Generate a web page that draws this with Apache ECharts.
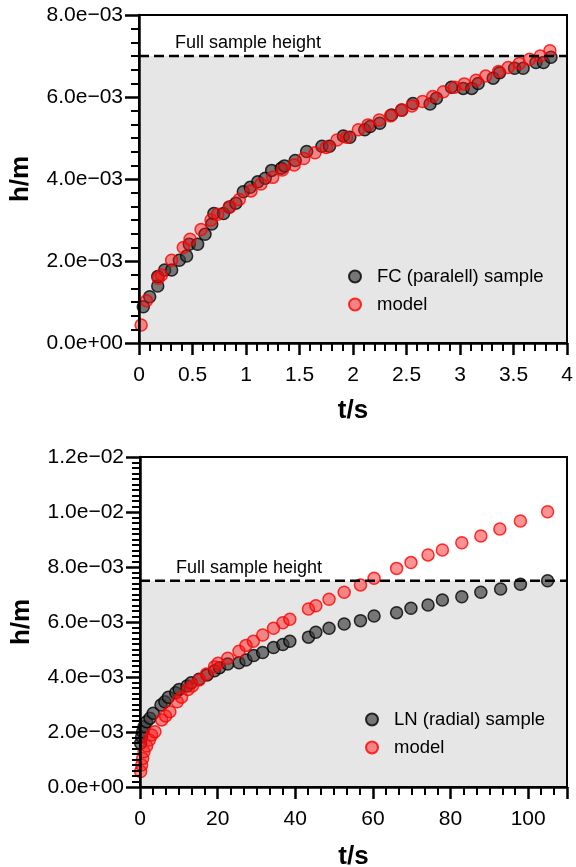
<!DOCTYPE html>
<html><head><meta charset="utf-8">
<script src="https://cdn.jsdelivr.net/npm/echarts@6/dist/echarts.min.js"></script>
<style>html,body{margin:0;padding:0;background:#fff}#c{width:576px;height:867px}</style>
</head><body><div id="c"></div>
<script>
// ---- Top panel: FC (parallel) sample, t in s, h in mm (converted to m below)
const fcT = [0.04,0.10,0.175,0.175,0.24,0.305,0.377,0.445,0.47,0.548,0.617,0.68,0.70,0.79,0.845,0.905,0.975,1.04,1.11,1.18,1.24,1.33,1.36,1.46,1.567,1.71,1.78,1.91,1.97,2.11,2.16,2.25,2.36,2.455,2.56,2.72,2.78,2.92,3.03,3.11,3.17,3.31,3.37,3.51,3.59,3.71,3.78,3.85];
const fcH = [0.885,1.13,1.39,1.62,1.78,1.78,2.02,2.12,2.41,2.41,2.65,2.90,3.16,3.16,3.32,3.41,3.69,3.80,3.93,4.02,4.21,4.26,4.32,4.45,4.67,4.80,4.80,5.05,5.02,5.20,5.28,5.36,5.56,5.68,5.84,5.83,5.97,6.24,6.21,6.21,6.33,6.46,6.59,6.70,6.70,6.84,6.84,6.97];
const fcModelT = [0.02,0.07,0.18,0.21,0.305,0.414,0.477,0.58,0.673,0.735,0.845,0.937,1.047,1.14,1.25,1.34,1.45,1.54,1.645,1.75,1.85,1.94,2.05,2.14,2.245,2.35,2.455,2.55,2.65,2.745,2.845,2.95,3.04,3.15,3.24,3.36,3.45,3.555,3.65,3.75,3.84];
const fcModelH = [0.44,1.03,1.58,1.66,2.02,2.33,2.53,2.77,3.00,3.14,3.31,3.50,3.71,3.88,4.04,4.22,4.34,4.50,4.64,4.77,4.95,5.02,5.20,5.32,5.44,5.54,5.68,5.78,5.89,6.01,6.13,6.24,6.32,6.41,6.51,6.62,6.72,6.82,6.92,7.00,7.13];
const fcFullHeight = 7.0e-3;

// ---- Bottom panel: LN (radial) sample
const lnT = [0.17,0.43,0.69,1.03,1.7,2.56,3.4,5.4,6.4,7.3,9.2,10.1,12.1,13.2,15.2,17.3,19.2,20.5,22.6,25.5,27.3,29.3,31.6,34.4,36.8,38.6,43.4,45.3,48.7,52.6,56.8,60.3,66.1,69.8,74.2,77.9,82.9,87.8,92.9,98.0,105];
const lnH = [1.59,1.83,2.01,2.19,2.37,2.50,2.68,2.98,3.10,3.26,3.43,3.55,3.67,3.79,3.92,4.07,4.23,4.34,4.47,4.52,4.62,4.78,4.89,5.07,5.18,5.30,5.45,5.63,5.77,5.93,6.05,6.22,6.34,6.50,6.62,6.80,6.92,7.08,7.20,7.37,7.50];
const lnModelT = [0.17,0.43,0.69,1.03,1.7,2.4,3.0,3.85,5.6,6.6,7.7,9.6,10.7,12.4,13.5,15.2,17.1,19.2,20.1,22.6,25.5,27.3,29.2,31.6,34.4,36.8,38.6,43.4,45.3,48.7,52.6,56.8,60.3,66.1,69.8,74.2,77.9,82.9,87.8,92.7,98.0,105];
const lnModelH = [0.56,0.80,1.04,1.28,1.49,1.71,1.89,2.01,2.44,2.58,2.74,3.10,3.26,3.55,3.67,3.89,4.11,4.37,4.50,4.68,4.94,5.15,5.30,5.53,5.77,5.97,6.10,6.47,6.59,6.83,7.08,7.35,7.59,7.95,8.16,8.44,8.62,8.88,9.13,9.38,9.67,10.01];
const lnFullHeight = 7.5e-3;

const seriesNames = ['FC (paralell) sample','model','LN (radial) sample','model'];
const fullLabel = 'Full sample height';
const xMax = [4, 110];

const FONT = '"Liberation Sans", Arial, sans-serif';
const MM = 1e-3;
const pts = (t, h) => t.map((x, i) => [x, h[i] * MM]);

function sci(v){
  if (Math.abs(v) < 1e-12) return '0.0e+00';
  let e = Math.floor(Math.log10(Math.abs(v)) + 1e-9);
  let m = v / Math.pow(10, e);
  if (Math.abs(m) >= 9.95) { m /= 10; e += 1; }
  return m.toFixed(1) + 'e' + (e < 0 ? '\u2212' : '+') + String(Math.abs(e)).padStart(2, '0');
}

const grayStyle = {color:'rgba(60,60,60,0.82)', borderColor:'#000', borderWidth:1.5};
const redStyle = {color:'rgba(255,20,20,0.58)', borderColor:'#ff0000', borderWidth:1.5};

function xAxis(gi, max, interval, minorSplit, gap){
  return {
    type:'value', gridIndex:gi, min:0, max:max, interval:interval, z:5, position:'bottom',
    name:'t/s', nameLocation:'middle', nameGap:gap,
    nameTextStyle:{fontSize:26, fontWeight:'bold', color:'#000', fontFamily:FONT},
    axisLine:{show:true, onZero:false, lineStyle:{color:'#000', width:2.5}},
    axisTick:{show:true, inside:false, length:12, lineStyle:{color:'#000', width:2.5}},
    minorTick:{show:true, splitNumber:minorSplit, length:8, lineStyle:{color:'#000', width:2}},
    splitLine:{show:false},
    axisLabel:{show:true, fontSize:21, color:'#000', fontFamily:FONT, margin:22, showMaxLabel: max === 4}
  };
}
function yAxis(gi, max, interval, minorSplit){
  return {
    type:'value', gridIndex:gi, min:0, max:max, interval:interval, z:5, position:'left',
    name:'h/m', nameLocation:'middle', nameGap:105, nameRotate:90,
    nameTextStyle:{fontSize:26, fontWeight:'bold', color:'#000', fontFamily:FONT},
    axisLine:{show:true, onZero:false, lineStyle:{color:'#000', width:2.5}},
    axisTick:{show:true, inside:false, length:14, lineStyle:{color:'#000', width:2.5}},
    minorTick:{show:true, splitNumber:minorSplit, length:8, lineStyle:{color:'#000', width:2}},
    splitLine:{show:false},
    axisLabel:{show:true, fontSize:21, color:'#000', fontFamily:FONT, margin:16, formatter:sci}
  };
}
function bgSeries(gi, full){
  const d = [[0, full], [xMax[gi], full]];
  return [{
    name:'_bg'+gi, type:'line', xAxisIndex:gi, yAxisIndex:gi, data:d, z:0, silent:true,
    symbol:'none', lineStyle:{width:0, opacity:0}, areaStyle:{color:'#e6e6e6', opacity:1, origin:'start'}
  },{
    name:'_line'+gi, type:'line', xAxisIndex:gi, yAxisIndex:gi, z:3, silent:true,
    symbol:'circle', symbolSize:1, showSymbol:true, itemStyle:{color:'transparent', borderWidth:0},
    lineStyle:{color:'#000', width:2.5, type:[10,5]},
    data:[
      {value:d[0], label:{show:true, position:'top', align:'left', offset:[36, 2], formatter:fullLabel,
        fontSize:18, color:'#000', fontFamily:FONT}},
      {value:d[1]}
    ]
  }];
}
const legendCommon = {orient:'vertical', padding:0, icon:'circle', itemWidth:24, itemHeight:12, itemGap:9,
  textStyle:{fontSize:18.5, color:'#000', fontFamily:FONT, padding:[0,0,0,5]}};

const chart = echarts.init(document.getElementById('c'), null, {renderer:'canvas'});
chart.setOption({
  animation:false,
  backgroundColor:'#fff',
  grid:[
    {left:139, top:15, right:9, height:328, show:true, z:4, outerBoundsMode:'none', containLabel:false,
     borderColor:'#000', borderWidth:2, backgroundColor:'transparent'},
    {left:140, top:457, right:9, height:330, show:true, z:4, outerBoundsMode:'none', containLabel:false,
     borderColor:'#000', borderWidth:2, backgroundColor:'transparent'}
  ],
  xAxis:[xAxis(0, xMax[0], 0.5, 5, 55), xAxis(1, xMax[1], 20, 6, 57)],
  yAxis:[yAxis(0, 8e-3, 2e-3, 6), yAxis(1, 1.2e-2, 2e-3, 10)],
  legend:[
    Object.assign({left:348, top:267, data:[seriesNames[0], seriesNames[1]]}, legendCommon),
    Object.assign({left:365, top:710, data:[seriesNames[2], seriesNames[3]]}, legendCommon)
  ],
  series:[
    ...bgSeries(0, fcFullHeight),
    ...bgSeries(1, lnFullHeight),
    {name:seriesNames[0], type:'scatter', xAxisIndex:0, yAxisIndex:0, symbolSize:12, z:2, itemStyle:grayStyle, data:pts(fcT, fcH)},
    {name:seriesNames[1], type:'scatter', xAxisIndex:0, yAxisIndex:0, symbolSize:12, z:2, itemStyle:redStyle, data:pts(fcModelT, fcModelH)},
    {name:seriesNames[2], type:'scatter', xAxisIndex:1, yAxisIndex:1, symbolSize:12, z:2, itemStyle:grayStyle, data:pts(lnT, lnH)},
    {name:seriesNames[3], type:'scatter', xAxisIndex:1, yAxisIndex:1, symbolSize:12, z:2, itemStyle:redStyle, data:pts(lnModelT, lnModelH)}
  ]
});
</script></body></html>
